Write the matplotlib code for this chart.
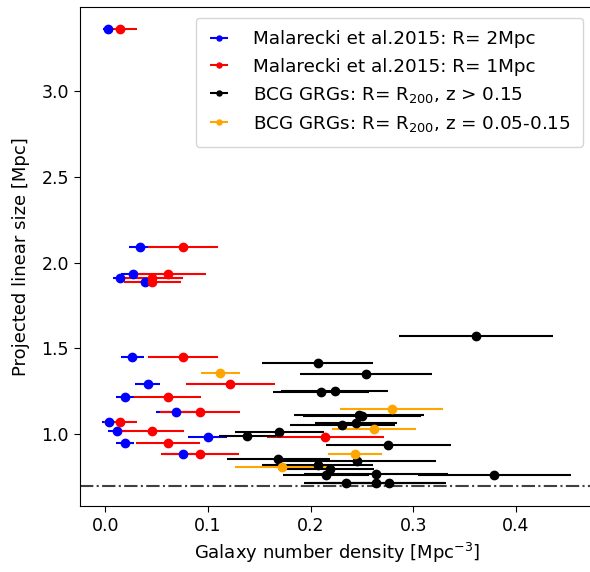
import matplotlib
matplotlib.use("Agg")
import matplotlib.pyplot as plt
import numpy as np

# Malarecki et al. 2015, R = 2 Mpc
mal2_dens = [0.003, 0.034, 0.027, 0.0146, 0.039, 0.0266, 0.0415, 0.0195, 0.0685, 0.0042, 0.012, 0.0999, 0.0195, 0.076]
mal2_err = [0.005, 0.011, 0.012, 0.007, 0.006, 0.011, 0.012, 0.009, 0.019, 0.007, 0.009, 0.019, 0.009, 0.019]
mal2_size = [3.36, 2.089, 1.931, 1.911, 1.885, 1.447, 1.293, 1.214, 1.127, 1.072, 1.016, 0.981, 0.946, 0.883]

# Malarecki et al. 2015, R = 1 Mpc
mal1_dens = [0.0147, 0.076, 0.061, 0.046, 0.046, 0.076, 0.122, 0.0607, 0.0925, 0.0149, 0.046, 0.2144, 0.061, 0.0925]
mal1_err = [0.016, 0.034, 0.037, 0.030, 0.028, 0.034, 0.043, 0.033, 0.039, 0.016, 0.031, 0.057, 0.031, 0.038]
mal1_size = [3.36, 2.089, 1.931, 1.911, 1.885, 1.447, 1.294, 1.214, 1.127, 1.072, 1.016, 0.981, 0.946, 0.883]

# BCG GRGs, z > 0.15
bcg_hi_dens = [0.361, 0.207, 0.2537, 0.210, 0.2235, 0.247, 0.250, 0.231, 0.244, 0.1385, 0.1697,
               0.2757, 0.1687, 0.2456, 0.207, 0.219, 0.215, 0.2637, 0.379, 0.234, 0.264, 0.276]
bcg_hi_err = [0.075, 0.054, 0.064, 0.047, 0.052, 0.063, 0.057, 0.051, 0.040, 0.028, 0.043,
              0.061, 0.050, 0.076, 0.054, 0.043, 0.042, 0.070, 0.074, 0.040, 0.066, 0.056]
bcg_hi_size = [1.573, 1.412, 1.348, 1.243, 1.251, 1.110, 1.105, 1.052, 1.062, 0.990, 1.010,
               0.936, 0.854, 0.844, 0.819, 0.796, 0.761, 0.767, 0.761, 0.713, 0.713, 0.713]

# BCG GRGs, z = 0.05-0.15
bcg_lo_dens = [0.112, 0.279, 0.262, 0.2433, 0.1726]
bcg_lo_err = [0.019, 0.050, 0.041, 0.026, 0.046]
bcg_lo_size = [1.357, 1.144, 1.027, 0.883, 0.810]

size_limit = 0.7

fig, ax = plt.subplots(figsize=(5.9, 5.72), dpi=100)
# right spine sits just outside the picture, as in the original crop
fig.subplots_adjust(left=0.1356, right=1.007, top=0.9885, bottom=0.1154)

ax.errorbar(mal2_dens, mal2_size, xerr=mal2_err, fmt='o', color='b', ms=6,
            label="Malarecki et al.2015: R= 2Mpc")
ax.errorbar(mal1_dens, mal1_size, xerr=mal1_err, fmt='o', color='r', ms=6,
            label="Malarecki et al.2015: R= 1Mpc")
ax.errorbar(bcg_hi_dens, bcg_hi_size, xerr=bcg_hi_err, fmt='o', color='k', ms=6,
            label="BCG GRGs: R= R$_{200}$, z > 0.15")
ax.errorbar(bcg_lo_dens, bcg_lo_size, xerr=bcg_lo_err, fmt='o', color='orange', ms=6,
            label="BCG GRGs: R= R$_{200}$, z = 0.05-0.15")
ax.axhline(size_limit, color='0.25', ls='-.', lw=1.5)

ax.set_xlim(-0.0245, 0.476)
ax.set_ylim(0.581, 3.492)
ax.set_xticks([0.0, 0.1, 0.2, 0.3, 0.4])
ax.set_yticks([1.0, 1.5, 2.0, 2.5, 3.0])
ax.tick_params(labelsize=12.5, length=4.5)
ax.set_xlabel("Galaxy number density [Mpc$^{-3}$]", fontsize=13)
ax.set_ylabel("Projected linear size [Mpc]", fontsize=13, labelpad=8)
ax.legend(loc='upper right', fontsize=13.2, markerscale=0.6, handlelength=1.1,
          handletextpad=1.3, borderpad=0.7, borderaxespad=0.6)

plt.savefig("out.png")
